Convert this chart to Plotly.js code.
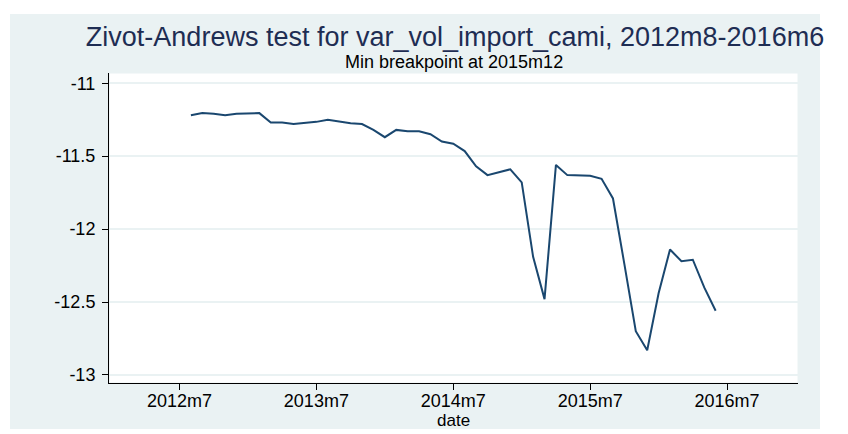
<!DOCTYPE html>
<html>
<head>
<meta charset="utf-8">
<script src="https://cdn.plot.ly/plotly-3.0.1.min.js"></script>
<style>html,body{margin:0;padding:0;background:#fff;}#chart{width:848px;height:434px;}</style>
</head>
<body>
<div id="chart"></div>
<script>
// Month labels (Stata %tm) and Zivot-Andrews t-statistics
const months = ["2012m8","2012m9","2012m10","2012m11","2012m12",
  "2013m1","2013m2","2013m3","2013m4","2013m5","2013m6","2013m7","2013m8","2013m9","2013m10","2013m11","2013m12",
  "2014m1","2014m2","2014m3","2014m4","2014m5","2014m6","2014m7","2014m8","2014m9","2014m10","2014m11","2014m12",
  "2015m1","2015m2","2015m3","2015m4","2015m5","2015m6","2015m7","2015m8","2015m9","2015m10","2015m11","2015m12",
  "2016m1","2016m2","2016m3","2016m4","2016m5","2016m6"];
const tstat = [-11.22,-11.205,-11.21,-11.22,-11.21,
  -11.205,-11.205,-11.27,-11.27,-11.28,-11.275,-11.265,-11.25,-11.265,-11.275,-11.28,-11.32,
  -11.37,-11.32,-11.33,-11.33,-11.35,-11.40,-11.415,-11.465,-11.57,-11.63,-11.61,-11.59,
  -11.68,-12.19,-12.48,-11.56,-11.63,-11.635,-11.635,-11.655,-11.79,-12.24,-12.70,-12.83,
  -12.44,-12.14,-12.22,-12.21,-12.40,-12.56];
const xTickLabels = ["2012m7","2013m7","2014m7","2015m7","2016m7"];
const yTickVals = [-11,-11.5,-12,-12.5,-13];
const yTickText = ["-11","-11.5","-12","-12.5","-13"];

// Stata monthly date: months since 1960m1
function tm(s){ const p = s.split("m"); return (parseInt(p[0])-1960)*12 + parseInt(p[1]) - 1; }
const x = months.map(tm);
const xTickVals = xTickLabels.map(tm);

const font = "Arial, 'Liberation Sans', sans-serif";
const bg = "#eaf2f3";

const trace = {
  x: x, y: tstat, type: "scatter", mode: "lines",
  line: {color: "#1a476f", width: 2},
  hoverinfo: "skip"
};

const layout = {
  width: 848, height: 434,
  margin: {l: 109, r: 50, t: 73, b: 51},
  paper_bgcolor: "#ffffff",
  plot_bgcolor: "#ffffff",
  showlegend: false,
  title: {
    text: "Zivot-Andrews test for var_vol_import_cami, 2012m8-2016m6",
    font: {family: font, size: 27, color: "#1e2d53"},
    xref: "container", yref: "container",
    x: 455/848, xanchor: "center",
    y: 1 - 37/434, yanchor: "middle"
  },
  annotations: [{
    text: "Min breakpoint at 2015m12",
    xref: "paper", yref: "paper",
    x: 0.5, y: (383-62)/310, xanchor: "center", yanchor: "middle",
    showarrow: false,
    font: {family: font, size: 18, color: "#000000"}
  }, {
    text: "date",
    xref: "paper", yref: "paper",
    x: 0.5, y: (383-420)/310, xanchor: "center", yanchor: "middle",
    showarrow: false,
    font: {family: font, size: 17, color: "#000000"}
  }],
  shapes: [
    {type: "rect", xref: "paper", yref: "paper", layer: "below",
     x0: (10-109)/689, x1: (820-109)/689, y0: (383-429)/310, y1: (383-14)/310,
     fillcolor: bg, line: {width: 0}},
    {type: "rect", xref: "paper", yref: "paper", layer: "below",
     x0: 0, x1: 1, y0: 0, y1: 1,
     fillcolor: "#ffffff", line: {color: bg, width: 1}}
  ],
  xaxis: {
    range: [623.82, 684.22],
    tickmode: "array", tickvals: xTickVals, ticktext: xTickLabels,
    ticks: "outside", ticklen: 6, tickwidth: 1, tickcolor: "#000",
    ticklabelstandoff: -5,
    showgrid: false, zeroline: false,
    showline: true, linecolor: "#000", linewidth: 1,
    tickfont: {family: font, size: 18, color: "#000"}
  },
  yaxis: {
    range: [-13.055, -10.93],
    tickmode: "array", tickvals: yTickVals, ticktext: yTickText,
    ticks: "outside", ticklen: 6, tickwidth: 1, tickcolor: "#000",
    ticklabelstandoff: 3,
    showgrid: true, gridcolor: bg, gridwidth: 1.5, zeroline: false,
    showline: true, linecolor: "#000", linewidth: 1,
    tickfont: {family: font, size: 18, color: "#000"}
  }
};

Plotly.newPlot("chart", [trace], layout, {displayModeBar: false, staticPlot: true});
</script>
</body>
</html>
